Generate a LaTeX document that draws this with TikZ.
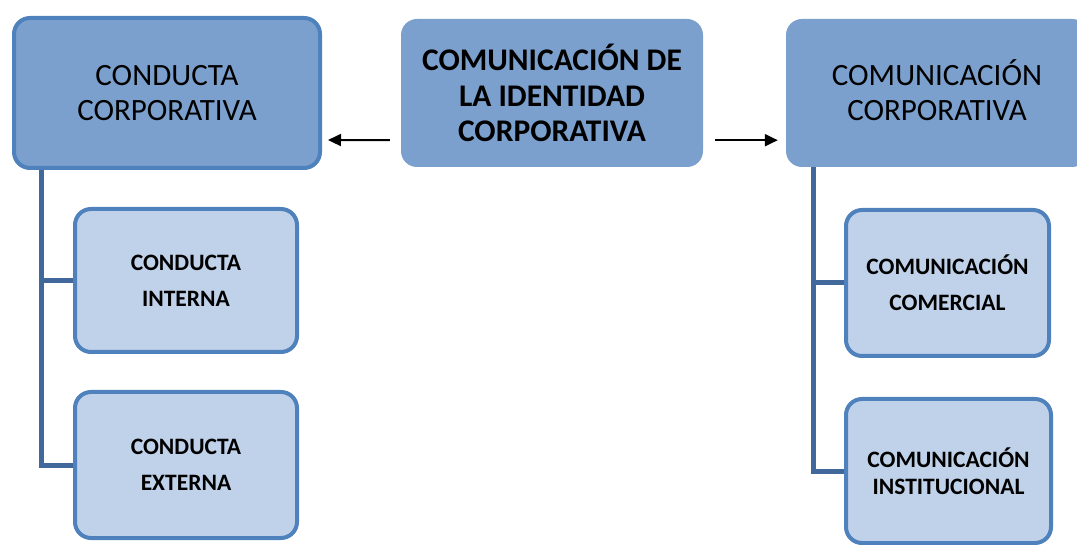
\documentclass[tikz,border=0pt]{standalone}
\usepackage{fontspec}
\setmainfont{Carlito}
\usetikzlibrary{arrows.meta}
\definecolor{midblue}{HTML}{7BA0CD}
\definecolor{edgeblue}{HTML}{4F81BD}
\definecolor{lightblue}{HTML}{C0D2E9}
\definecolor{trunkblue}{HTML}{41689A}
\tikzset{
  bigbox/.style={rectangle, rounded corners=16pt, fill=midblue, inner sep=0pt, align=center,
    font=\fontsize{31}{35}\selectfont},
  smallbox/.style={rectangle, rounded corners=16pt, fill=lightblue, draw=edgeblue, line width=4pt,
    inner sep=0pt, align=center, font=\bfseries\fontsize{23.5}{36}\selectfont},
  trunk/.style={draw=trunkblue, line width=5pt},
  arr/.style={draw=black, line width=2pt, -{Triangle[length=13pt,width=12pt]}},
}
\begin{document}
\begin{tikzpicture}[x=1pt,y=1pt]
\useasboundingbox (0,0) rectangle (1077,-545);
\clip (0,0) rectangle (1077,-545);
% main boxes
\node[bigbox, draw=edgeblue, line width=4pt, minimum width=306pt, minimum height=150pt] (l) at (167,-93) {CONDUCTA\\CORPORATIVA};
\node[bigbox, minimum width=302pt, minimum height=148pt, font=\bfseries\fontsize{31.5}{35.5}\selectfont] (c) at (552,-93) {COMUNICACIÓN DE\\LA IDENTIDAD\\CORPORATIVA};
\node[bigbox, minimum width=302pt, minimum height=148pt] (r) at (937,-93) {COMUNICACIÓN\\CORPORATIVA\\[-29pt]};
% sub boxes
\node[smallbox, minimum width=222pt, minimum height=143pt] (ci) at (186,-280.5) {CONDUCTA\\INTERNA};
\node[smallbox, minimum width=222pt, minimum height=146pt] (ce) at (186,-465) {CONDUCTA\\EXTERNA};
\node[smallbox, minimum width=203pt, minimum height=146pt] (cc) at (947.5,-283) {COMUNICACIÓN\\COMERCIAL};
\node[smallbox, minimum width=205pt, minimum height=144pt, font=\bfseries\fontsize{23.5}{27}\selectfont] (cn) at (948.5,-471) {COMUNICACIÓN\\INSTITUCIONAL};
% trunks
\coordinate (lt) at ([xshift=29pt]l.south west);
\coordinate (rt) at ([xshift=28pt]r.south west);
\draw[trunk] (lt) |- (ce.west);
\draw[trunk] (lt |- ci.west) -- (ci.west);
\draw[trunk] (rt) |- (cn.west);
\draw[trunk] (rt |- cc.west) -- (cc.west);
% arrows
\draw[arr] ([shift={(-11pt,27pt)}]c.south west) -- ([shift={(6pt,30pt)}]l.south east);
\draw[arr] ([shift={(12pt,27pt)}]c.south east) -- ([shift={(-8pt,27pt)}]r.south west);
\end{tikzpicture}
\end{document}
